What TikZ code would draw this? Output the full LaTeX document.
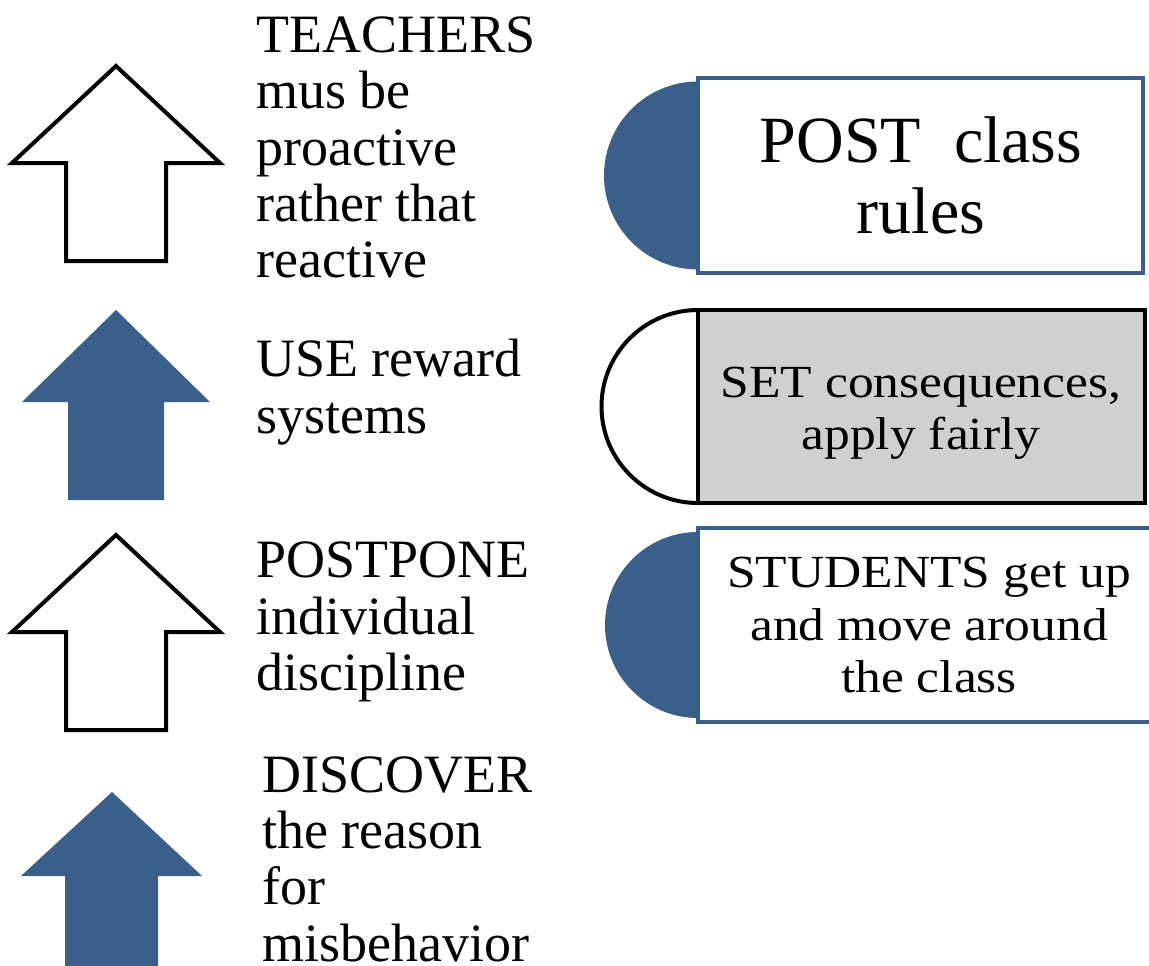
\documentclass[tikz,border=0pt]{standalone}
\usepackage{fontspec}
\setmainfont{Liberation Serif}
\newfontfamily\widefont{Liberation Serif}[FakeStretch=1.12]
\definecolor{pblue}{HTML}{3A5F8B}
\definecolor{pgray}{HTML}{D0D0D0}
\begin{document}
\begin{tikzpicture}[x=1pt,y=1pt,
  arrowout/.style={draw=black,line width=4pt,fill=white,line join=miter},
  arrowfill/.style={fill=pblue},
  bluebox/.style={draw=pblue,line width=4pt,fill=white,inner sep=0pt},
  graybox/.style={draw=black,line width=4pt,fill=pgray,inner sep=0pt},
  lefttext/.style={inner sep=0pt,align=left,anchor=west,font=\fontsize{54}{56.3}\selectfont},
  boxtext/.style={align=center,font=\widefont\fontsize{46}{52.5}\selectfont},
  bigtext/.style={align=center,font=\fontsize{66}{71}\selectfont}
]
\useasboundingbox (0,0) rectangle (1149,-966);
% arrows
\draw[arrowout] (116,-66) -- (220,-163) -- (166,-163) -- (166,-261) -- (66,-261) -- (66,-163) -- (12,-163) -- cycle;
\fill[arrowfill] (116,-310) -- (210,-402) -- (164,-402) -- (164,-500) -- (68,-500) -- (68,-402) -- (22,-402) -- cycle;
\draw[arrowout] (116,-535) -- (220,-632) -- (166,-632) -- (166,-730) -- (66,-730) -- (66,-632) -- (12,-632) -- cycle;
\fill[arrowfill] (112,-792) -- (202,-876) -- (158,-876) -- (158,-990) -- (65,-990) -- (65,-876) -- (21,-876) -- cycle;
% left texts
\node[lefttext] (t1) at (256,-147.5) {TEACHERS\\mus be\\proactive\\rather that\\reactive};
\node[lefttext] (t2) at (256,-392) {USE reward\\systems};
\node[lefttext] (t3) at (256,-622) {POSTPONE\\individual\\discipline};
\node[lefttext] (t4) at (262,-859) {DISCOVER\\the reason\\for\\misbehavior};
% semicircles
\fill[pblue] (698,-81.5) arc[start angle=90,end angle=270,radius=94] -- cycle;
\draw[line width=4pt,fill=white] (698,-310) arc[start angle=90,end angle=270,radius=96.5] -- cycle;
\fill[pblue] (698,-532) arc[start angle=90,end angle=270,radius=93] -- cycle;
% boxes
\node[bluebox,minimum width=445pt,minimum height=195pt] (b1) at (920.5,-175.5) {};
\node[graybox,minimum width=447pt,minimum height=193pt] (b2) at (921.5,-406.5) {};
\node[bluebox,minimum width=470pt,minimum height=194pt] (b3) at (933,-625) {};
% box texts
\node[bigtext] (bt1) at (921,-175) {POST~~class\\rules};
\node[boxtext] (bt2) at (921,-413) {SET consequences,\\apply fairly};
\node[boxtext] (bt3) at (929,-625) {STUDENTS get up\\and move around\\the class};
\end{tikzpicture}
\end{document}
